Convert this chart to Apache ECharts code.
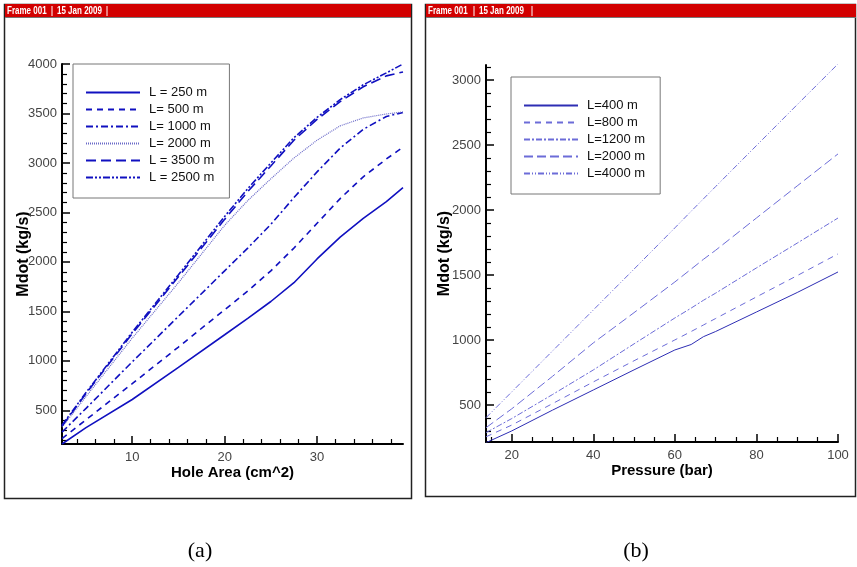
<!DOCTYPE html>
<html>
<head>
<meta charset="utf-8">
<script src="https://cdn.jsdelivr.net/npm/echarts@6/dist/echarts.min.js"></script>
<style>
html,body{margin:0;padding:0;background:#fff;}
#chart{width:857px;height:567px;}
</style>
</head>
<body>
<div id="chart"></div>
<script>
// ---------- Panel (a): Mdot vs Hole Area ----------
const holeArea = [2.4, 5, 10, 15, 20, 22.5, 25, 27.5, 30, 32.5, 35, 37.5, 39.3];
const aNames = ['L = 250 m', 'L= 500 m', 'L= 1000 m', 'L= 2000 m', 'L = 3500 m', 'L = 2500 m'];
const a250  = [160, 325, 610, 935, 1264, 1430, 1600, 1790, 2030, 2250, 2440, 2610, 2750];
const a500  = [215, 405, 770, 1140, 1517, 1705, 1910, 2140, 2390, 2640, 2860, 3040, 3160];
const a1000 = [280, 520, 990, 1450, 1910, 2140, 2380, 2650, 2910, 3150, 3340, 3470, 3510];
const a2000 = [330, 640, 1230, 1790, 2370, 2620, 2840, 3050, 3230, 3375, 3455, 3495, 3515];
const a3500 = [340, 670, 1275, 1850, 2430, 2710, 2970, 3230, 3440, 3620, 3770, 3880, 3920];
const a2500 = [350, 680, 1290, 1870, 2460, 2740, 3000, 3255, 3460, 3640, 3790, 3910, 4000];
const aXTicks = [10, 20, 30];
const aXMinor = [4, 6, 8, 12, 14, 16, 18, 22, 24, 26, 28, 32, 34, 36, 38];
const aYTicks = [500, 1000, 1500, 2000, 2500, 3000, 3500, 4000];

// ---------- Panel (b): Mdot vs Pressure ----------
const pressure = [13.7, 20, 30, 40, 50, 60, 64, 67, 70, 80, 90, 100];
const bNames = ['L=400 m', 'L=800 m', 'L=1200 m', 'L=2000 m', 'L=4000 m'];
const b400  = [210, 300, 460, 615, 770, 923, 965, 1025, 1065, 1215, 1365, 1523];
const b800  = [255, 345, 510, 677, 840, 1000, 1065, 1115, 1165, 1331, 1495, 1662];
const b1200 = [287, 395, 580, 769, 970, 1169, 1245, 1305, 1360, 1554, 1745, 1938];
const b2000 = [325, 470, 720, 977, 1210, 1446, 1545, 1620, 1690, 1938, 2185, 2431];
const b4000 = [402, 600, 915, 1230, 1545, 1862, 1990, 2085, 2180, 2495, 2810, 3123];
const bXTicks = [20, 40, 60, 80, 100];
const bXMinor = [15, 25, 30, 35, 45, 50, 55, 65, 70, 75, 85, 90, 95];
const bYTicks = [500, 1000, 1500, 2000, 2500, 3000];

function range(a, b, step, skip) {
  const out = [];
  for (let v = a; v <= b; v += step) if (skip.indexOf(v) < 0) out.push(v);
  return out;
}
const aYMinor = range(200, 3900, 100, aYTicks);
const bYMinor = range(300, 3100, 100, bYTicks);

const FONT = '"Liberation Sans", Arial, sans-serif';

function mainAxis(grid, pos, min, max, ticks, name, nameGap, nameSize) {
  return {
    type: 'value', gridIndex: grid, position: pos, min: min, max: max,
    axisLine: { show: true, onZero: false, lineStyle: { color: '#000', width: 2 } },
    axisTick: { show: true, inside: true, length: 8, customValues: ticks, lineStyle: { color: '#000', width: 1.5 } },
    axisLabel: { show: true, customValues: ticks, margin: pos === 'bottom' ? 7 : 5, color: '#444', fontSize: 13, fontFamily: FONT,
                 formatter: function (v) { return String(v); } },
    splitLine: { show: false },
    name: name, nameLocation: 'middle', nameGap: nameGap, nameMoveOverlap: false,
    nameTextStyle: { color: '#000', fontWeight: 'bold', fontSize: nameSize, fontFamily: FONT }
  };
}
function minorAxis(grid, pos, min, max, ticks) {
  return {
    type: 'value', gridIndex: grid, position: pos, min: min, max: max,
    axisLine: { show: false, onZero: false },
    axisTick: { show: true, inside: true, length: 5, customValues: ticks, lineStyle: { color: '#000', width: 1.2 } },
    axisLabel: { show: false },
    splitLine: { show: false }
  };
}

function pairs(xs, ys) { return xs.map((x, i) => [x, ys[i]]); }

const aStyles = [
  { c: '#1010c0', w: 1.6, t: 'solid' },
  { c: '#1010c0', w: 1.6, t: [6, 5] },
  { c: '#1010c0', w: 1.6, t: [7, 3, 2, 3] },
  { c: '#6a6ac8', w: 1.2, t: [1, 1] },
  { c: '#1010c0', w: 1.6, t: [10, 5] },
  { c: '#1010c0', w: 1.6, t: [7, 2, 2, 2, 2, 2] }
];
const aData = [a250, a500, a1000, a2000, a3500, a2500];
const bStyles = [
  { c: '#2e2eb4', w: 1, t: 'solid' },
  { c: '#6c6cd8', w: 1, t: [6, 5] },
  { c: '#6c6cd8', w: 1, t: [6, 2, 2, 2] },
  { c: '#6c6cd8', w: 1, t: [9, 4] },
  { c: '#6c6cd8', w: 1, t: [6, 2, 1, 2, 1, 2] }
];
const bData = [b400, b800, b1200, b2000, b4000];

const series = [];
aNames.forEach((n, i) => {
  series.push({
    name: n, type: 'line', xAxisIndex: 0, yAxisIndex: 0, symbol: 'none',
    smooth: false, animation: false,
    data: pairs(holeArea, aData[i]),
    lineStyle: { color: aStyles[i].c, width: aStyles[i].w, type: aStyles[i].t },
    itemStyle: { color: aStyles[i].c }
  });
});
bNames.forEach((n, i) => {
  series.push({
    name: n, type: 'line', xAxisIndex: 2, yAxisIndex: 2, symbol: 'none',
    smooth: false, animation: false,
    data: pairs(pressure, bData[i]),
    lineStyle: { color: bStyles[i].c, width: bStyles[i].w, type: bStyles[i].t },
    itemStyle: { color: bStyles[i].c }
  });
});

const HFONT = 'bold 10px "Liberation Sans", Arial';
function header(x0, w, sep1, sep2, date) {
  return [
    { type: 'rect', z: 1, shape: { x: x0, y: 4, width: w, height: 13 }, style: { fill: '#d20000' } },
    { type: 'text', z: 2, x: x0 + 2, y: 11, scaleX: 0.8, style: { text: 'Frame 001', fill: '#fff', font: HFONT, textVerticalAlign: 'middle' } },
    { type: 'line', z: 2, shape: { x1: sep1, y1: 6, x2: sep1, y2: 16 }, style: { stroke: '#fff', lineWidth: 1 } },
    { type: 'text', z: 2, x: date, y: 11, scaleX: 0.8, style: { text: '15 Jan 2009', fill: '#fff', font: HFONT, textVerticalAlign: 'middle' } },
    { type: 'line', z: 2, shape: { x1: sep2, y1: 6, x2: sep2, y2: 16 }, style: { stroke: '#fff', lineWidth: 1 } },
    { type: 'line', z: 2, shape: { x1: x0, y1: 17.5, x2: x0 + w, y2: 17.5 }, style: { stroke: '#777', lineWidth: 1 } }
  ];
}

const graphics = [
  { type: 'rect', z: 0, shape: { x: 4.5, y: 4.5, width: 407, height: 494 }, style: { fill: 'none', stroke: '#222', lineWidth: 1.5 } },
  { type: 'rect', z: 0, shape: { x: 425.5, y: 4.5, width: 430, height: 492 }, style: { fill: 'none', stroke: '#222', lineWidth: 1.5 } }
].concat(header(5, 406, 52, 107, 57), header(426, 430, 474, 532, 479), [
  { type: 'text', style: { x: 200, y: 551, text: '(a)', fill: '#000', font: '22px "Liberation Serif", "Times New Roman", serif', textAlign: 'center', textVerticalAlign: 'middle' } },
  { type: 'text', style: { x: 636, y: 551, text: '(b)', fill: '#000', font: '22px "Liberation Serif", "Times New Roman", serif', textAlign: 'center', textVerticalAlign: 'middle' } }
]);

const legendCommon = {
  orient: 'vertical', itemGap: 4, itemWidth: 54, itemHeight: 14,
  borderColor: '#777', borderWidth: 1, backgroundColor: '#fff',
  itemStyle: { opacity: 0 },
  textStyle: { fontSize: 13, color: '#111', fontFamily: FONT, padding: [0, 0, 0, 4] },
  selectedMode: false
};

const option = {
  animation: false,
  backgroundColor: '#fff',
  grid: [
    { left: 62, top: 64, width: 341, height: 380 },
    { left: 486, top: 65, width: 352, height: 377 }
  ],
  xAxis: [
    mainAxis(0, 'bottom', 2.4, 39.3, aXTicks, 'Hole Area (cm^2)', 21, 15),
    minorAxis(0, 'bottom', 2.4, 39.3, aXMinor),
    mainAxis(1, 'bottom', 13.7, 100, bXTicks, 'Pressure (bar)', 21, 15),
    minorAxis(1, 'bottom', 13.7, 100, bXMinor)
  ],
  yAxis: [
    mainAxis(0, 'left', 160, 4000, aYTicks, 'Mdot (kg/s)', 30, 16),
    minorAxis(0, 'left', 160, 4000, aYMinor),
    mainAxis(1, 'left', 215, 3115, bYTicks, 'Mdot (kg/s)', 33, 16),
    minorAxis(1, 'left', 215, 3115, bYMinor)
  ],
  legend: [
    Object.assign({}, legendCommon, { data: aNames, left: 73, top: 64, padding: [22, 15, 14, 12] }),
    Object.assign({}, legendCommon, { data: bNames, left: 511, top: 77, padding: [22, 15, 14, 12] })
  ],
  graphic: graphics,
  series: series
};

const chart = echarts.init(document.getElementById('chart'), null, { renderer: 'canvas' });
chart.setOption(option);
</script>
</body>
</html>
